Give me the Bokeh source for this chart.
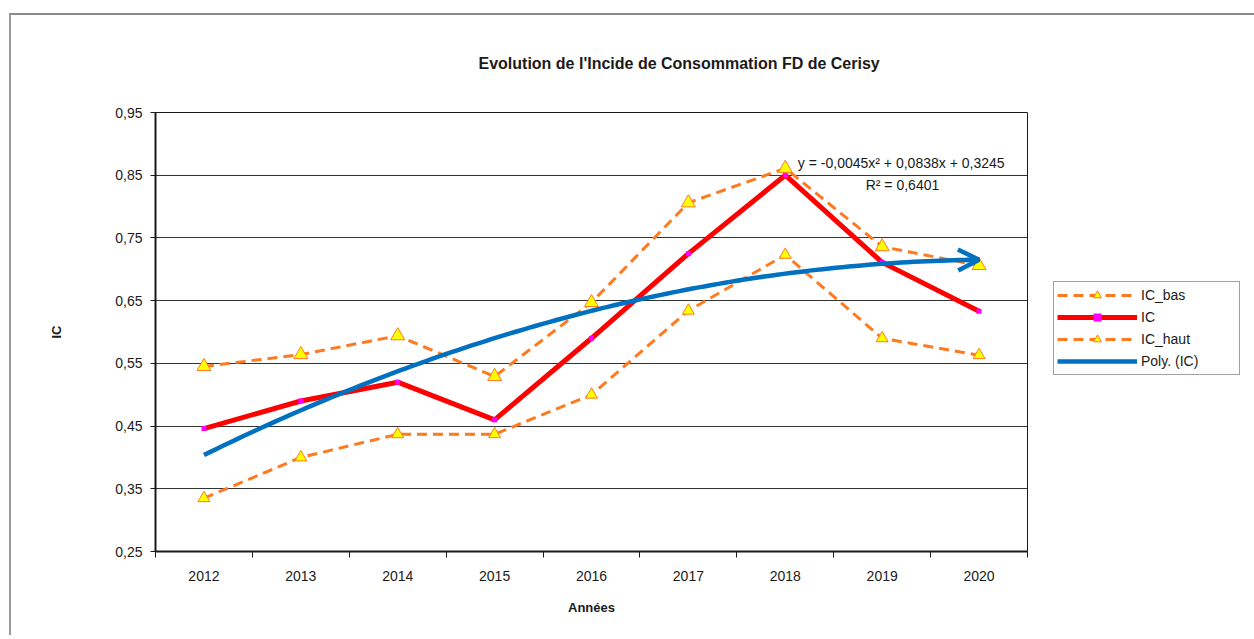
import numpy as np
from bokeh.plotting import figure
from bokeh.models import (Range1d, FixedTicker, Label, Legend, LegendItem,
                          Arrow, OpenHead, ColumnDataSource)
from bokeh.embed import file_html
from bokeh.resources import INLINE

# ---------------- data ----------------
years = ["2012", "2013", "2014", "2015", "2016", "2017", "2018", "2019", "2020"]
ic = [0.446, 0.490, 0.520, 0.460, 0.590, 0.725, 0.850, 0.711, 0.633]
ic_bas = [0.335, 0.400, 0.437, 0.437, 0.500, 0.634, 0.723, 0.590, 0.563]
ic_haut = [0.545, 0.564, 0.594, 0.529, 0.647, 0.806, 0.861, 0.736, 0.706]
y_ticks = [0.25, 0.35, 0.45, 0.55, 0.65, 0.75, 0.85, 0.95]
y_tick_labels = ["0,25", "0,35", "0,45", "0,55", "0,65", "0,75", "0,85", "0,95"]
title_text = "Evolution de l'Incide de Consommation FD de Cerisy"
equation_text = "y = -0,0045x\u00b2  + 0,0838x  + 0,3245"
r2_text = "R\u00b2 = 0,6401"

FONT = "Liberation Sans"
TXT = "#1a1a1a"
ORANGE = "#ff7a1f"
BLUE = "#0070c0"

xpos = list(range(1, len(years) + 1))

p = figure(frame_width=872, frame_height=439,
           x_range=Range1d(0.5, len(years) + 0.5), y_range=Range1d(0.25, 0.95),
           output_backend="svg", toolbar_location=None,
           min_border_left=144, min_border_right=224,
           min_border_top=97, min_border_bottom=84,
           background_fill_color="white", border_fill_color="white",
           outline_line_color="#1a1a1a", outline_line_width=1)
p.margin = (13, 0, 0, 9)
p.styles = {"border-left": "2px solid #9a9a9a", "border-top": "2px solid #8a8a8a",
            "border-right": "1px solid #d4d4d4"}

# title
p.title.text = title_text
p.title.text_font = FONT
p.title.text_font_size = "16px"
p.title.text_font_style = "bold"
p.title.text_color = TXT
p.title.align = "left"
p.title.offset = 323
p.title.vertical_align = "top"
p.title.standoff = 77

# grid
p.xgrid.grid_line_color = None
p.ygrid.grid_line_color = "#333333"
p.ygrid.grid_line_width = 1

# y axis
p.yaxis.ticker = FixedTicker(ticks=y_ticks)
p.yaxis.major_label_overrides = {t: l for t, l in zip(y_ticks, y_tick_labels)}
p.yaxis.major_tick_out = 5
p.yaxis.major_tick_in = 0
p.yaxis.major_label_standoff = 8
p.yaxis.axis_label = "IC"
p.yaxis.axis_label_standoff = 48

# x axis
p.xaxis.ticker = FixedTicker(ticks=xpos, minor_ticks=[x + 0.5 for x in [0] + xpos])
p.xaxis.major_label_overrides = {x: y for x, y in zip(xpos, years)}
p.xaxis.major_tick_out = 0
p.xaxis.major_tick_in = 0
p.xaxis.minor_tick_out = 6
p.xaxis.minor_tick_in = 0
p.xaxis.major_label_standoff = 13
p.xaxis.axis_label = "Ann\u00e9es"
p.xaxis.axis_label_standoff = 16

for ax in (p.xaxis, p.yaxis):
    ax.axis_line_color = "#1a1a1a"
    ax.axis_line_width = 2
    ax.major_tick_line_color = "#1a1a1a"
    ax.major_label_text_font = FONT
    ax.major_label_text_font_size = "14px"
    ax.major_label_text_color = TXT
    ax.axis_label_text_font = FONT
    ax.axis_label_text_font_size = "13px"
    ax.axis_label_text_font_style = "bold"
    ax.axis_label_text_color = TXT
p.xaxis.minor_tick_line_color = "#1a1a1a"
p.yaxis.minor_tick_line_color = None

src = ColumnDataSource(dict(x=xpos, ic=ic, bas=ic_bas, haut=ic_haut))

# IC_bas
l_bas = p.line("x", "bas", source=src, line_color=ORANGE, line_width=3, line_dash="10 6")
m_bas = p.scatter("x", "bas", source=src, marker="triangle", size=12,
                  fill_color="#ffff00", line_color=ORANGE, line_width=1)
# IC
l_ic = p.line("x", "ic", source=src, line_color="#ff0000", line_width=5)
m_ic = p.scatter("x", "ic", source=src, marker="square", size=5,
                 fill_color="#ff00ff", line_color=None)
# IC_haut
l_haut = p.line("x", "haut", source=src, line_color=ORANGE, line_width=3, line_dash="10 6")
m_haut = p.scatter("x", "haut", source=src, marker="triangle", size=14,
                   fill_color="#ffff00", line_color=ORANGE, line_width=1)

# polynomial trendline (order 2) fitted to IC
coef = np.polyfit(xpos, ic, 2)
xs = np.linspace(xpos[0], xpos[-1], 120)
ys = np.polyval(coef, xs)
l_poly = p.line(xs, ys, line_color=BLUE, line_width=4.5)
p.add_layout(Arrow(end=OpenHead(size=21, line_color=BLUE, line_width=4.5),
                   x_start=xs[-3], y_start=ys[-3], x_end=xs[-1], y_end=ys[-1],
                   line_color=BLUE, line_width=4.5))

# equation labels
p.add_layout(Label(x=7.13, y=0.869, text=equation_text, text_font=FONT,
                   text_font_size="14px", text_color=TXT, text_baseline="middle"))
p.add_layout(Label(x=7.83, y=0.835, text=r2_text, text_font=FONT,
                   text_font_size="14px", text_color=TXT, text_baseline="middle"))

# legend
legend = Legend(items=[
    LegendItem(label="IC_bas", renderers=[l_bas, m_bas]),
    LegendItem(label="IC", renderers=[l_ic, m_ic]),
    LegendItem(label="IC_haut", renderers=[l_haut, m_haut]),
    LegendItem(label="Poly. (IC)", renderers=[l_poly]),
], location=(26, 176))
legend.border_line_color = "#444444"
legend.border_line_width = 1
legend.background_fill_color = "white"
legend.background_fill_alpha = 1
legend.label_text_font = FONT
legend.label_text_font_size = "14px"
legend.label_text_color = TXT
legend.glyph_width = 80
legend.glyph_height = 20
legend.label_height = 20
legend.label_width = 95
legend.label_standoff = 4
legend.spacing = 2
legend.padding = 3
legend.margin = 0
p.add_layout(legend, "right")

open("out.html", "w").write(file_html(p, INLINE))
